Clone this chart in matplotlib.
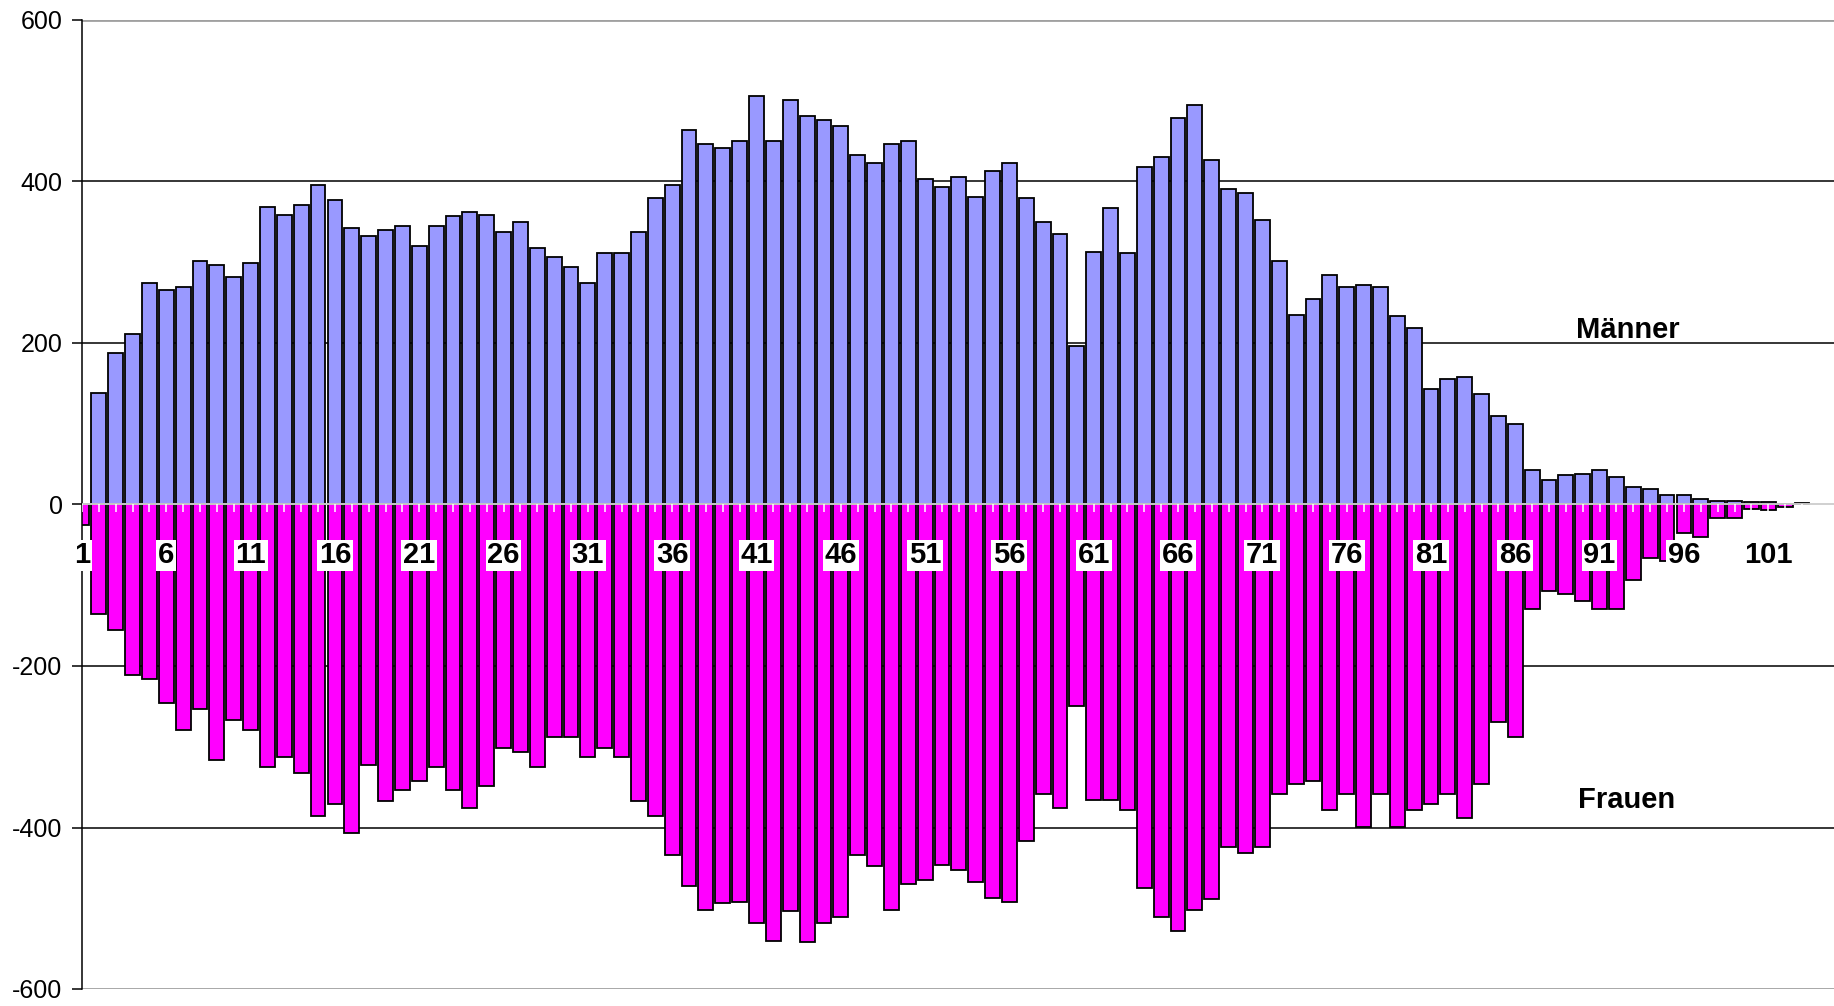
import matplotlib.pyplot as plt
import numpy as np

plt.rcParams['font.family'] = ['Liberation Sans', 'DejaVu Sans']
plt.rcParams['axes.unicode_minus'] = False

# Altersklassen (Position 0 = Alter 1)
maenner = [0, 138, 187, 211, 274, 266, 269, 301, 296, 282, 299,
           369, 359, 371, 396, 377, 343, 332, 340, 345, 320,
           345, 357, 362, 359, 337, 350, 318, 306, 294, 274,
           311, 311, 337, 379, 396, 464, 447, 442, 450, 506,
           450, 501, 481, 476, 469, 433, 423, 447, 450, 403,
           393, 405, 381, 413, 423, 379, 350, 335, 196, 313,
           367, 311, 418, 430, 479, 495, 427, 391, 386, 352,
           301, 235, 255, 284, 269, 272, 269, 234, 218, 143,
           155, 158, 137, 109, 100, 43, 30, 36, 38, 43,
           34, 22, 19, 12, 12, 7, 4, 4, 3, 3, 1, 2]
frauen = [-25, -136, -156, -211, -216, -246, -279, -253, -316, -267, -279,
          -325, -313, -332, -386, -371, -407, -322, -367, -354, -342,
          -325, -354, -376, -349, -301, -306, -325, -288, -288, -313,
          -301, -313, -367, -386, -434, -472, -502, -494, -492, -518,
          -540, -504, -542, -518, -511, -434, -448, -502, -470, -465,
          -446, -453, -468, -487, -492, -417, -359, -376, -250, -366,
          -366, -378, -475, -511, -528, -502, -489, -424, -431, -424,
          -358, -346, -342, -378, -358, -399, -358, -399, -378, -371,
          -358, -388, -346, -269, -288, -129, -107, -111, -120, -129,
          -129, -93, -66, -70, -35, -40, -17, -17, -6, -7, -3, 0]
alter_labels = ['1', '6', '11', '16', '21', '26', '31', '36', '41', '46', '51',
                '56', '61', '66', '71', '76', '81', '86', '91', '96', '101']
y_ticks = [-600, -400, -200, 0, 200, 400, 600]

x = np.arange(len(maenner))

fig = plt.figure(figsize=(18.34, 10.06), dpi=100)
ax = fig.add_axes([82 / 1834, 1 - 989 / 1006, 1 - 82 / 1834, (989 - 20) / 1006])

ax.bar(x, maenner, width=0.88, color='#9999ff', edgecolor='black', linewidth=1.3)
ax.bar(x, frauen, width=0.88, color='#ff00ff', edgecolor='black', linewidth=1.3)

# weisse Nulllinie mit Strichen nach unten
ax.axhline(0, color='white', linewidth=1.1, zorder=3)
ax.plot(x, np.zeros(len(x)), linestyle='none', marker=3, markersize=6,
        markeredgewidth=1.1, color='white', zorder=3)

for lab in alter_labels:
    ax.text(int(lab) - 1, -73, lab, ha='center', va='baseline', fontsize=21,
            fontweight='bold', zorder=5, clip_on=False,
            bbox=dict(boxstyle='square,pad=0.06', fc='white', ec='none'))

ax.text(91.7, 206, 'Männer', ha='center', va='baseline', fontsize=21, fontweight='bold')
ax.text(91.6, -376, 'Frauen', ha='center', va='baseline', fontsize=21, fontweight='bold')

ax.set_xlim(0, 103.9)
ax.set_ylim(-600, 600)
ax.set_yticks(y_ticks)
ax.set_xticks([])
ax.tick_params(axis='y', direction='out', length=7, width=1.1, labelsize=18, pad=7)
ax.set_axisbelow(True)
ax.yaxis.grid(True, color='black', linewidth=1.1)
gl = ax.get_ygridlines()
gl[0].set_color('#a0a0a0')
gl[-1].set_color('#a0a0a0')
gl[0].set_linewidth(2)
gl[-1].set_linewidth(2)

for s in ['top', 'right', 'bottom']:
    ax.spines[s].set_visible(False)
ax.spines['left'].set_linewidth(1.1)

fig.savefig('out.png', dpi=100)
